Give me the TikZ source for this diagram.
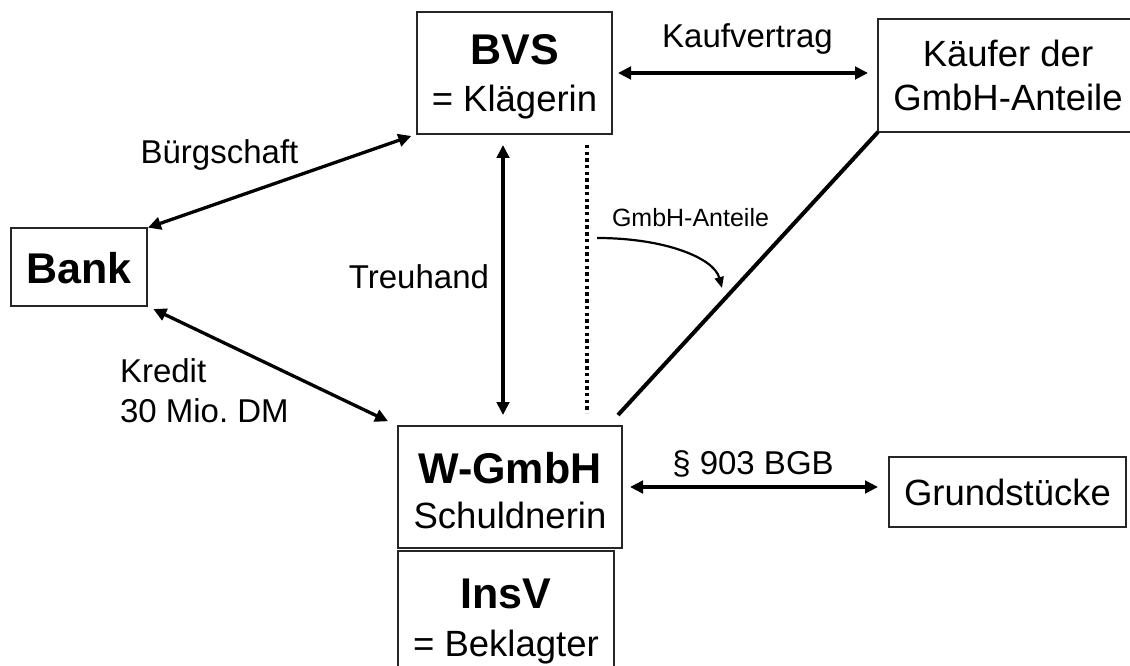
\documentclass[tikz,border=0pt]{standalone}
\usepackage{fontspec}
\setmainfont{Liberation Sans}
\usetikzlibrary{arrows.meta}
\frenchspacing
\newcommand\fbig{\fontsize{43}{50}\selectfont\bfseries}
\newcommand\freg{\fontsize{36.5}{44}\selectfont}
\newcommand\flab{\fontsize{33}{40}\selectfont}
\newcommand\fsmall{\fontsize{25}{30}\selectfont}
\tikzset{
  box/.style={draw=black!85, line width=1.3pt, inner sep=0pt, outer sep=0pt, fill=none},
  txt/.style={anchor=base, inner sep=0pt, outer sep=0pt},
  dbl/.style={line width=3.3pt, {Triangle[length=13pt,width=12.5pt]}-{Triangle[length=13pt,width=12.5pt]}},
  diag/.style={line width=4pt},
  dots/.style={line width=4.5pt, dash pattern=on 3.4pt off 3.3pt},
  curv/.style={line width=2.2pt, -{Triangle[length=11pt,width=9pt]}}
}
\begin{document}
\begin{tikzpicture}[x=1pt,y=-1pt]
\useasboundingbox (0,0) rectangle (1130,666);
\fill[white] (0,0) rectangle (1130,666);
% boxes
\node[box, minimum width=195pt, minimum height=122pt] (bvs) at (514.5,73) {};
\node[box, minimum width=261pt, minimum height=113pt] (kaeufer) at (1008.5,75.5) {};
\node[box, minimum width=136pt, minimum height=78pt] (bank) at (79,267) {};
\node[box, minimum width=224pt, minimum height=122pt] (wgmbh) at (510,487) {};
\node[box, minimum width=216pt, minimum height=120pt] (insv) at (506,611) {};
\node[box, minimum width=237pt, minimum height=70pt] (grund) at (1007.5,492) {};
% box texts
\node[txt] (t-bvs1) at (514.5,65) {\fbig BVS};
\node[txt] (t-bvs2) at (514.5,112) {\freg = Klägerin};
\node[txt] (t-k1) at (1008,67) {\freg Käufer der};
\node[txt] (t-k2) at (1008,111) {\freg GmbH-Anteile};
\node[txt] (t-bank) at (79,283) {\fbig Bank};
\node[txt] (t-w1) at (510,483) {\fbig W-GmbH};
\node[txt] (t-w2) at (510,528) {\freg Schuldnerin};
\node[txt] (t-i1) at (506,608) {\fbig InsV};
\node[txt] (t-i2) at (506,656) {\freg = Beklagter};
\node[txt] (t-g) at (1007.5,505) {\freg Grundstücke};
% labels
\node[txt] (l-kauf) at (747.5,48) {\flab Kaufvertrag};
\node[txt] (l-buerg) at (219.5,164) {\flab Bürgschaft};
\node[txt, anchor=base east] (l-treu) at (489,288) {\flab Treuhand};
\node[txt, anchor=base west] (l-kred1) at (120,382) {\flab Kredit};
\node[txt, anchor=base west] (l-kred2) at (120,422) {\flab 30 Mio. DM};
\node[txt] (l-903) at (753,474) {\flab \S\ 903 BGB};
\node[txt] (l-anteile) at (690.5,226) {\fsmall GmbH-Anteile};
% free-end coordinates
\coordinate (dtop) at (587,145);
\coordinate (dbot) at (587,413);
\coordinate (dend) at (618,415);
\coordinate (cstart) at (597,238);
\coordinate (cend) at (722,288);
% connectors
\draw[dbl, shorten <=6pt, shorten >=10pt] (bvs.east) -- (bvs.east -| kaeufer.west);
\draw[dbl, shorten <=1pt, shorten >=6pt] (bank.north east) -- (bvs.south west);
\draw[dbl, shorten <=7pt, shorten >=11pt] (bank.south east) -- (wgmbh.north west);
\draw[dbl, shorten <=11pt, shorten >=11pt] ([xshift=-11.5pt]bvs.south) -- ([xshift=-11.5pt]bvs.south |- wgmbh.north);
\draw[dots] (dtop) -- (dbot);
\draw[diag] (kaeufer.south west) -- (dend);
\draw[dbl, shorten <=8pt, shorten >=11pt] (wgmbh.east) -- (wgmbh.east -| grund.west);
\draw[curv] (cstart) .. controls (665,238) and (714,258) .. (cend);
\end{tikzpicture}
\end{document}
